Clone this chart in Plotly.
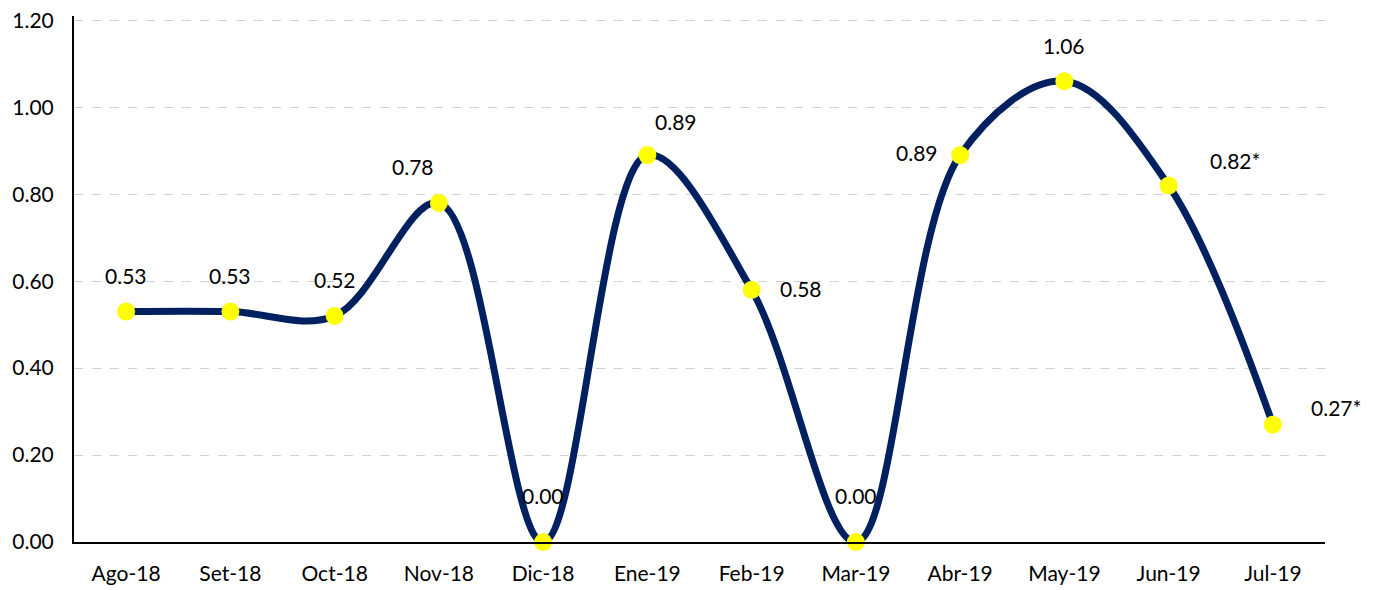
import plotly.graph_objects as go

categories = ["Ago-18", "Set-18", "Oct-18", "Nov-18", "Dic-18", "Ene-19",
              "Feb-19", "Mar-19", "Abr-19", "May-19", "Jun-19", "Jul-19"]
values = [0.53, 0.53, 0.52, 0.78, 0.00, 0.89, 0.58, 0.00, 0.89, 1.06, 0.82, 0.27]
labels = ["0.53", "0.53", "0.52", "0.78", "0.00", "0.89",
          "0.58", "0.00", "0.89", "1.06", "0.82*", "0.27*"]
tick_vals = [0, 0.2, 0.4, 0.6, 0.8, 1.0, 1.2]
tick_text = ["0.00", "0.20", "0.40", "0.60", "0.80", "1.00", "1.20"]
# label offsets (px) relative to each point
label_dx = [0, 0, 0, -26, 0, 29, 49, 0, -43, 0, 66, 63]
label_dy = [36, 36, 36, 36, 47, 34, 1, 47, 3, 36, 25, 17]

FONT = "Lato, Carlito, Calibri, sans-serif"

fig = go.Figure()
fig.add_trace(go.Scatter(
    x=categories, y=values, mode="lines+markers",
    line=dict(color="#002060", width=7, shape="spline", smoothing=1.0),
    marker=dict(color="#FFFF00", size=18, line=dict(width=0)),
    cliponaxis=False, hoverinfo="skip",
))

for c, v, t, dx, dy in zip(categories, values, labels, label_dx, label_dy):
    fig.add_annotation(x=c, y=v, text=t, showarrow=False, xshift=dx, yshift=dy,
                       font=dict(family=FONT, size=21, color="#000000"))

# page body has an 8px margin, so the figure is sized/offset to compensate
fig.update_layout(
    width=1372, height=582,
    margin=dict(l=66, r=55, t=8, b=48),
    paper_bgcolor="white", plot_bgcolor="white",
    showlegend=False,
    font=dict(family=FONT, size=20, color="#000000"),
    xaxis=dict(
        type="category", range=[-0.5, 11.5], showgrid=False,
        showline=True, linecolor="#000000", linewidth=2,
        ticks="", ticklabelstandoff=12,
        tickfont=dict(family=FONT, size=21, color="#000000"),
        fixedrange=True, automargin=False,
    ),
    yaxis=dict(
        range=[0, 1.21], tickvals=tick_vals, ticktext=tick_text,
        showgrid=True, gridcolor="#D0D0D0", griddash="dash", gridwidth=1,
        showline=True, linecolor="#000000", linewidth=2, zeroline=False,
        ticks="", ticklabelstandoff=14, automargin=False,
        ticklabeloverflow="allow",
        tickfont=dict(family=FONT, size=21, color="#000000"),
        fixedrange=True,
    ),
)

fig.write_html("out.html")
